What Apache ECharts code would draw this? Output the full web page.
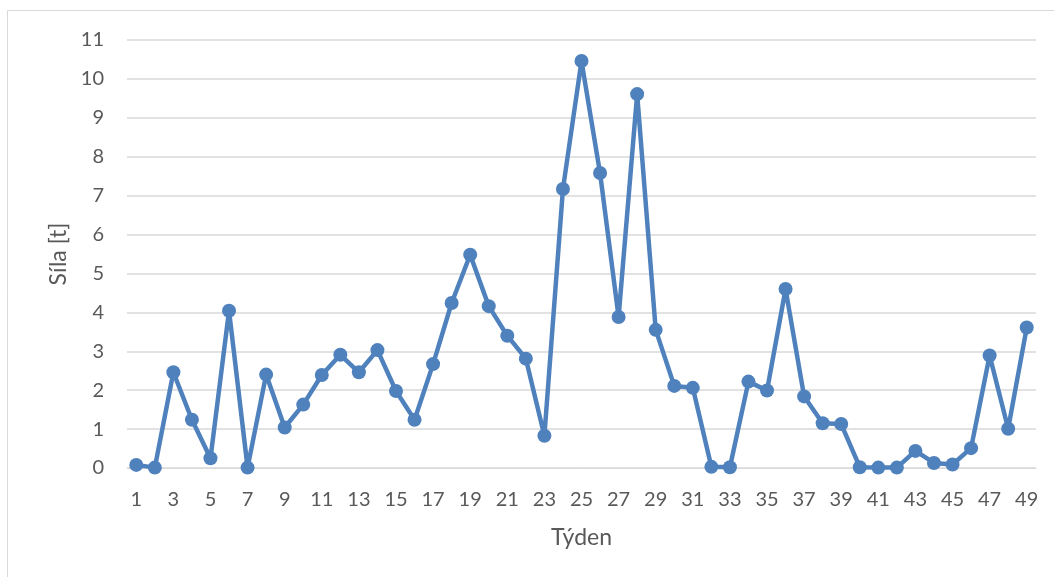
<!DOCTYPE html>
<html>
<head>
<meta charset="utf-8">
<script src="https://cdn.jsdelivr.net/npm/echarts@6/dist/echarts.min.js"></script>
<style>
  html, body { margin: 0; padding: 0; background: #ffffff; }
  #chart { width: 1054px; height: 577px; }
</style>
</head>
<body>
<div id="chart"></div>
<script>
// Weekly force measurements
const weeks = Array.from({ length: 49 }, (_, i) => String(i + 1));
const force = [
  0.08, 0.01, 2.46, 1.24, 0.25, 4.04, 0.01, 2.40, 1.04, 1.63,
  2.39, 2.91, 2.46, 3.03, 1.98, 1.24, 2.67, 4.24, 5.48, 4.16,
  3.40, 2.81, 0.83, 7.17, 10.46, 7.58, 3.88, 9.61, 3.55, 2.11,
  2.06, 0.03, 0.02, 2.22, 1.99, 4.60, 1.84, 1.15, 1.13, 0.02,
  0.01, 0.01, 0.44, 0.13, 0.09, 0.51, 2.89, 1.01, 3.61
];
const yTicks = { min: 0, max: 11, step: 1 };
const labels = { x: 'Týden', y: 'Síla [t]' };

const textColor = '#595959';
const gridColor = '#d9d9d9';
const fontFamily = 'Lato, "Open Sans", sans-serif';

const chart = echarts.init(document.getElementById('chart'), null, { renderer: 'canvas' });
chart.setOption({
  backgroundColor: '#ffffff',
  animation: false,
  graphic: [{
    type: 'rect',
    shape: { x: 7.5, y: 10.5, width: 1100, height: 600 },
    style: { fill: 'none', stroke: gridColor, lineWidth: 1 },
    silent: true
  }],
  grid: { left: 127, right: 18, top: 40, bottom: 109 },
  xAxis: {
    type: 'category',
    data: weeks,
    boundaryGap: true,
    name: labels.x,
    nameLocation: 'middle',
    nameGap: 58,
    nameTextStyle: { color: textColor, fontSize: 23, fontFamily },
    axisLine: { show: true, lineStyle: { color: gridColor, width: 1 } },
    axisTick: { show: false },
    axisLabel: {
      interval: 1,
      margin: 22,
      color: textColor,
      fontSize: 20,
      fontFamily
    },
    splitLine: { show: false }
  },
  yAxis: {
    type: 'value',
    min: yTicks.min,
    max: yTicks.max,
    interval: yTicks.step,
    name: labels.y,
    nameLocation: 'middle',
    nameGap: 57,
    nameTextStyle: { color: textColor, fontSize: 23, fontFamily },
    axisLine: { show: false },
    axisTick: { show: false },
    axisLabel: { margin: 23, color: textColor, fontSize: 20, fontFamily },
    splitLine: { show: true, lineStyle: { color: gridColor, width: 1.5 } }
  },
  series: [{
    type: 'line',
    data: force,
    symbol: 'circle',
    symbolSize: 14,
    showAllSymbol: true,
    lineStyle: { color: '#4f81bd', width: 4.5 },
    itemStyle: { color: '#4f81bd' },
    z: 3
  }]
});
</script>
</body>
</html>
